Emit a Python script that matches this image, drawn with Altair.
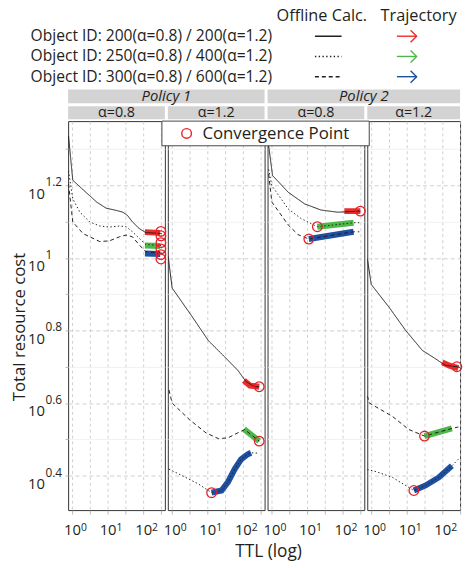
import altair as alt
import pandas as pd

FONT = "Open Sans"
INK = "#231f20"

# ------------------------------------------------------------------ data
panel_policy = ["Policy 1", "Policy 1", "Policy 2", "Policy 2"]
panel_alpha = ["α=0.8", "α=1.2", "α=0.8", "α=1.2"]

series_ids = ["s1", "s2", "s3"]
series_labels = [
    "Object ID: 200(α=0.8) / 200(α=1.2)",
    "Object ID: 250(α=0.8) / 400(α=1.2)",
    "Object ID: 300(α=0.8) / 600(α=1.2)",
]
series_styles = ["solid", "dotted", "dashed"]
series_colors = ["#ec2b2b", "#4cb848", "#1f4fa0"]
conv_color = "#e3202a"

# axis ticks (exponents of 10)
x_ticks = [0, 0.5, 1, 1.5, 2, 2.5]
x_major = [0, 1, 2]
x_major_exp = ["0", "1", "2"]
y_ticks = [0.3, 0.4, 0.5, 0.6, 0.7, 0.8, 0.9, 1.0, 1.1, 1.2, 1.3]
y_major = [0.4, 0.6, 0.8, 1.0, 1.2]
y_major_exp = ["0.4", "0.6", "0.8", "1", "1.2"]

# Offline calc. curves: log10(TTL) and log10(total resource cost)
# Panel 1: Policy 1, alpha=0.8
P1_S1_X = [-0.10, 0.02, 0.31, 0.69, 0.96, 1.24, 1.43, 1.56, 1.70, 1.89, 2.07, 2.53]
P1_S1_Y = [1.336, 1.214, 1.188, 1.154, 1.137, 1.131, 1.126, 1.117, 1.099, 1.081, 1.070, 1.067]
P1_S2_X = [-0.10, 0.02, 0.22, 0.50, 0.78, 1.05, 1.33, 1.52, 1.70, 1.89, 2.07, 2.54]
P1_S2_Y = [1.240, 1.163, 1.126, 1.099, 1.088, 1.085, 1.088, 1.086, 1.072, 1.054, 1.037, 1.034]
P1_S3_X = [-0.10, 0.02, 0.31, 0.78, 1.05, 1.33, 1.52, 1.70, 1.89, 2.07, 2.54]
P1_S3_Y = [1.204, 1.099, 1.067, 1.045, 1.047, 1.058, 1.063, 1.058, 1.036, 1.017, 1.013]
# Panel 2: Policy 1, alpha=1.2
P2_S1_X = [-0.10, 0.01, 0.56, 1.03, 1.49, 1.86, 2.09, 2.33, 2.46]
P2_S1_Y = [1.004, 0.917, 0.840, 0.772, 0.727, 0.690, 0.659, 0.645, 0.645]
P2_S2_X = [-0.08, 0.01, 0.50, 0.96, 1.31, 1.58, 1.86, 2.05, 2.23, 2.46]
P2_S2_Y = [0.636, 0.600, 0.554, 0.518, 0.502, 0.504, 0.518, 0.527, 0.513, 0.495]
P2_S3_X = [-0.08, 0.29, 0.75, 1.12, 1.40, 1.58, 1.77, 1.95, 2.14, 2.23, 2.42]
P2_S3_Y = [0.418, 0.400, 0.377, 0.353, 0.359, 0.382, 0.418, 0.445, 0.459, 0.463, 0.462]
# Panel 3: Policy 2, alpha=0.8
P3_S1_X = [-0.11, -0.08, 0.03, 0.47, 0.93, 1.39, 1.86, 2.50]
P3_S1_Y = [1.360, 1.309, 1.227, 1.181, 1.149, 1.132, 1.126, 1.129]
P3_S2_X = [-0.08, 0.01, 0.47, 0.84, 1.29, 2.31, 2.47]
P3_S2_Y = [1.244, 1.199, 1.135, 1.108, 1.086, 1.097, 1.097]
P3_S3_X = [-0.08, 0.01, 0.47, 0.75, 1.05, 2.31, 2.47]
P3_S3_Y = [1.231, 1.154, 1.091, 1.064, 1.052, 1.072, 1.072]
# Panel 4: Policy 2, alpha=1.2
P4_S1_X = [-0.11, 0.00, 0.51, 0.97, 1.44, 1.81, 2.08, 2.41, 2.50]
P4_S1_Y = [0.999, 0.927, 0.863, 0.800, 0.745, 0.722, 0.704, 0.700, 0.698]
P4_S2_X = [-0.11, -0.05, 0.60, 1.06, 1.50, 2.27, 2.45]
P4_S2_Y = [0.620, 0.600, 0.563, 0.527, 0.509, 0.530, 0.534]
P4_S3_X = [-0.11, 0.14, 0.60, 1.20, 1.53, 1.90, 2.27, 2.45]
P4_S3_Y = [0.417, 0.411, 0.395, 0.359, 0.373, 0.395, 0.427, 0.445]

# line style of each offline curve (panel, series)
curve_style = [
    ["solid", "dotted", "dashed"],
    ["solid", "dashed", "dotted"],
    ["solid", "dotted", "dashed"],
    ["solid", "dashed", "dotted"],
]

# trajectories (log10 TTL, log10 cost)
T1_S1_X, T1_S1_Y = [2.05, 2.48], [1.071, 1.069]
T1_S2_X, T1_S2_Y = [2.05, 2.48], [1.034, 1.033]
T1_S3_X, T1_S3_Y = [2.05, 2.48], [1.012, 1.011]
T2_S1_X, T2_S1_Y = [2.03, 2.20, 2.46], [0.662, 0.648, 0.645]
T2_S2_X, T2_S2_Y = [2.03, 2.23, 2.46], [0.528, 0.513, 0.495]
T2_S3_X = [1.12, 1.40, 1.58, 1.77, 1.95, 2.14, 2.23]
T2_S3_Y = [0.353, 0.359, 0.382, 0.418, 0.445, 0.459, 0.463]
T3_S1_X, T3_S1_Y = [2.05, 2.50], [1.129, 1.129]
T3_S2_X, T3_S2_Y = [1.29, 2.31], [1.086, 1.097]
T3_S3_X, T3_S3_Y = [1.05, 2.31], [1.052, 1.072]
T4_S1_X, T4_S1_Y = [2.00, 2.20, 2.45], [0.712, 0.703, 0.696]
T4_S2_X, T4_S2_Y = [1.50, 2.27], [0.509, 0.530]
T4_S3_X = [1.20, 1.53, 1.90, 2.27]
T4_S3_Y = [0.359, 0.373, 0.395, 0.427]

# convergence points
C1_X = [2.50, 2.50, 2.50, 2.50, 2.50, 2.50]
C1_Y = [1.073, 1.061, 1.042, 1.025, 1.009, 0.997]
C2_X, C2_Y = [2.46, 2.46, 1.12], [0.645, 0.495, 0.353]
C3_X, C3_Y = [2.50, 1.29, 1.05], [1.129, 1.086, 1.052]
C4_X, C4_Y = [2.41, 1.50, 1.20], [0.700, 0.509, 0.359]

curves_x = [[P1_S1_X, P1_S2_X, P1_S3_X], [P2_S1_X, P2_S2_X, P2_S3_X],
            [P3_S1_X, P3_S2_X, P3_S3_X], [P4_S1_X, P4_S2_X, P4_S3_X]]
curves_y = [[P1_S1_Y, P1_S2_Y, P1_S3_Y], [P2_S1_Y, P2_S2_Y, P2_S3_Y],
            [P3_S1_Y, P3_S2_Y, P3_S3_Y], [P4_S1_Y, P4_S2_Y, P4_S3_Y]]
traj_x = [[T1_S1_X, T1_S2_X, T1_S3_X], [T2_S1_X, T2_S2_X, T2_S3_X],
          [T3_S1_X, T3_S2_X, T3_S3_X], [T4_S1_X, T4_S2_X, T4_S3_X]]
traj_y = [[T1_S1_Y, T1_S2_Y, T1_S3_Y], [T2_S1_Y, T2_S2_Y, T2_S3_Y],
          [T3_S1_Y, T3_S2_Y, T3_S3_Y], [T4_S1_Y, T4_S2_Y, T4_S3_Y]]
conv_x = [C1_X, C2_X, C3_X, C4_X]
conv_y = [C1_Y, C2_Y, C3_Y, C4_Y]

# ------------------------------------------------------------------ layout
PANEL_W = [98, 98, 98, 94]
PANEL_H = 394
SPACING = 3
X_LO = -0.111
PX_PER_DECADE = 36.0
Y_LO, Y_HI = 0.305, 1.377
STRIP_GREY = "#d3d3d3"
LEG_FS = 15.8
LEG_ROW = 20.5

STYLE_SCALE = alt.Scale(domain=["solid", "dotted", "dashed"],
                        range=[[1, 0], [1.4, 2.4], [4, 3]])
COLOR_SCALE = alt.Scale(domain=series_ids, range=series_colors)

major_y_test = "abs(datum.value*5 - round(datum.value*5)) < 0.01"


def long_table(xs, ys, i):
    rows = []
    for s in range(3):
        for k, (a, b) in enumerate(zip(xs[i][s], ys[i][s])):
            rows.append({"series": series_ids[s], "style": curve_style[i][s],
                         "lx": a, "ly": b, "k": k})
    return pd.DataFrame(rows)


def make_panel(i):
    w = PANEL_W[i]
    xs = alt.Scale(domain=[X_LO, X_LO + w / PX_PER_DECADE], nice=False, zero=False)
    ys = alt.Scale(domain=[Y_LO, Y_HI], nice=False, zero=False)
    xaxis = alt.Axis(
        values=x_ticks, labelExpr="datum.value % 1 == 0 ? '10' : ''", title=None,
        grid=True, gridColor="#c4c4c4", gridDash=[3, 3], gridWidth=0.8,
        ticks=True, tickColor="#a8a8a8", tickSize=4, tickWidth=0.8, domain=False,
        labelFont=FONT, labelFontSize=15, labelColor=INK, labelPadding=9,
        labelBaseline="top", labelFlush=False, labelOverlap=False, labelBound=False)
    ygrid = dict(
        values=y_ticks, grid=True, domain=False,
        gridDash={"condition": {"test": major_y_test, "value": [4, 3]}, "value": [1, 0]},
        gridColor={"condition": {"test": major_y_test, "value": "#c2c2c2"}, "value": "#ececec"},
        gridWidth=0.8)
    if i == 0:
        yaxis = alt.Axis(
            labelExpr=major_y_test + " ? '10' : ''", ticks=True, tickColor="#a8a8a8",
            tickSize=3, tickWidth=0.8, labelFont=FONT, labelFontSize=15, labelColor=INK,
            labelPadding=21, labelOffset=8, labelOverlap=False, labelBound=False,
            labelFlush=False, title="Total resource cost", titleFont=FONT,
            titleFontSize=17, titleFontWeight="normal", titleColor=INK,
            titleX=-44, titleY=208, titleBaseline="alphabetic", titleAngle=270, **ygrid)
    else:
        yaxis = alt.Axis(labels=False, ticks=False, title=None, **ygrid)

    X = alt.X("lx:Q", scale=xs, axis=xaxis, title=None)
    Y = alt.Y("ly:Q", scale=ys, axis=yaxis)

    cdf = long_table(curves_x, curves_y, i)
    tdf = long_table(traj_x, traj_y, i)
    cpdf = pd.DataFrame({"lx": conv_x[i], "ly": conv_y[i]})

    traj = alt.Chart(tdf).mark_line(strokeWidth=6, strokeCap="butt", clip=True).encode(
        x=X, y=Y,
        color=alt.Color("series:N", scale=COLOR_SCALE, legend=None),
        detail="series:N", order="k:Q")
    curves = alt.Chart(cdf).mark_line(color=INK, strokeWidth=1, clip=True).encode(
        x=X, y=Y,
        strokeDash=alt.StrokeDash("style:N", scale=STYLE_SCALE, legend=None),
        detail="series:N", order="k:Q")
    conv = alt.Chart(cpdf).mark_point(shape="circle", filled=False, color=conv_color,
                                      size=95, strokeWidth=1.3, opacity=1).encode(x=X, y=Y)

    xexp = alt.Chart(pd.DataFrame({"lx": x_major, "t": x_major_exp})).mark_text(
        align="left", baseline="top", dx=9, font=FONT, fontSize=10.5, color=INK).encode(
        x=X, y=alt.value(PANEL_H + 13), text="t:N")

    strip_df = pd.DataFrame({"label": [panel_alpha[i]]})
    strip = alt.Chart(strip_df).mark_rect(fill=STRIP_GREY).encode(
        x=alt.value(0), x2=alt.value(w), y=alt.value(-15), y2=alt.value(-2))
    strip_t = alt.Chart(strip_df).mark_text(font=FONT, fontSize=14.5, color=INK,
                                            baseline="middle").encode(
        x=alt.value(w / 2), y=alt.value(-8), text="label:N")

    layers = [traj, curves, conv, xexp, strip, strip_t]

    if i in (0, 2):
        pw = PANEL_W[i] + SPACING + PANEL_W[i + 1]
        pdf = pd.DataFrame({"label": [panel_policy[i]]})
        layers.append(alt.Chart(pdf).mark_rect(fill=STRIP_GREY).encode(
            x=alt.value(0), x2=alt.value(pw), y=alt.value(-32), y2=alt.value(-18)))
        layers.append(alt.Chart(pdf).mark_text(font=FONT, fontSize=15, fontStyle="italic",
                                               color=INK, baseline="middle").encode(
            x=alt.value(pw / 2), y=alt.value(-25), text="label:N"))

    if i == 0:
        # exponent part of y tick labels
        layers.append(alt.Chart(pd.DataFrame({"ly": y_major, "t": y_major_exp})).mark_text(
            align="left", baseline="middle", dy=-3, font=FONT, fontSize=12, color=INK).encode(
            x=alt.value(-23), y=Y, text="t:N"))
        # x axis title, centred under the four panels
        layers.append(alt.Chart(pd.DataFrame({"t": ["TTL (log)"]})).mark_text(
            font=FONT, fontSize=17.5, color=INK, baseline="middle").encode(
            x=alt.value(203), y=alt.value(437), text="t:N"))
        # legend
        leg = pd.DataFrame({"series": series_ids, "label": series_labels,
                            "style": series_styles, "row": [0, 1, 2]})
        leg["py"] = -86 + LEG_ROW * leg["row"]
        leg["tx"] = -38
        leg["lx1"], leg["lx2"] = 250, 277
        leg["ax1"], leg["ax2"] = 333, 353
        hdr = pd.DataFrame({"t": ["Offline Calc.", "Trajectory"], "px": [257, 355], "py": [-106, -106]})
        layers.append(alt.Chart(hdr).mark_text(font=FONT, fontSize=16.5, color=INK).encode(
            x=alt.X("px:Q", scale=None, axis=None), y=alt.Y("py:Q", scale=None, axis=None), text="t:N"))
        layers.append(alt.Chart(leg).mark_text(font=FONT, fontSize=LEG_FS, color=INK, align="left").encode(
            x=alt.X("tx:Q", scale=None, axis=None), y=alt.Y("py:Q", scale=None, axis=None), text="label:N"))
        layers.append(alt.Chart(leg).mark_rule(color=INK, strokeWidth=1.6).encode(
            x=alt.X("lx1:Q", scale=None, axis=None), x2="lx2:Q",
            y=alt.Y("py:Q", scale=None, axis=None),
            strokeDash=alt.StrokeDash("style:N", scale=STYLE_SCALE, legend=None)))
        layers.append(alt.Chart(leg).mark_rule(strokeWidth=1.4).encode(
            x=alt.X("ax1:Q", scale=None, axis=None), x2="ax2:Q",
            y=alt.Y("py:Q", scale=None, axis=None),
            color=alt.Color("series:N", scale=COLOR_SCALE, legend=None)))
        layers.append(alt.Chart(leg).mark_point(shape="M-1,-1L0,0L-1,1", filled=False,
                                                size=150, strokeWidth=1.4, opacity=1).encode(
            x=alt.X("ax2:Q", scale=None, axis=None), y=alt.Y("py:Q", scale=None, axis=None),
            color=alt.Color("series:N", scale=COLOR_SCALE, legend=None)))
        # invisible frame fixing the page extent (465 x 568)
        layers.append(alt.Chart(pd.DataFrame({"a": [0]})).mark_rect(
            fillOpacity=0, strokeOpacity=0).encode(
            x=alt.value(-68), x2=alt.value(397), y=alt.value(-118), y2=alt.value(450)))

    if i == 3:
        box = pd.DataFrame({"t": ["Convergence Point"]})
        layers.append(alt.Chart(box).mark_rect(fill="white", stroke="#444444", strokeWidth=1).encode(
            x=alt.value(-208), x2=alt.value(2), y=alt.value(0), y2=alt.value(25)))
        layers.append(alt.Chart(box).mark_point(shape="circle", filled=False, color=conv_color,
                                                size=95, strokeWidth=1.4, opacity=1).encode(
            x=alt.value(-183), y=alt.value(12.5)))
        layers.append(alt.Chart(box).mark_text(font=FONT, fontSize=17, color=INK, align="left",
                                               baseline="middle").encode(
            x=alt.value(-167), y=alt.value(13), text="t:N"))

    return alt.layer(*layers).properties(width=w, height=PANEL_H)


panels = [make_panel(i) for i in range(4)]
chart = alt.HConcatChart(hconcat=panels, spacing=SPACING, bounds="flush").properties(
    padding=0, autosize=alt.AutoSizeParams(type="pad")
).configure_view(stroke="#333333", strokeWidth=1)

chart.save("out.html", embed_options={"renderer": "svg", "actions": False})
